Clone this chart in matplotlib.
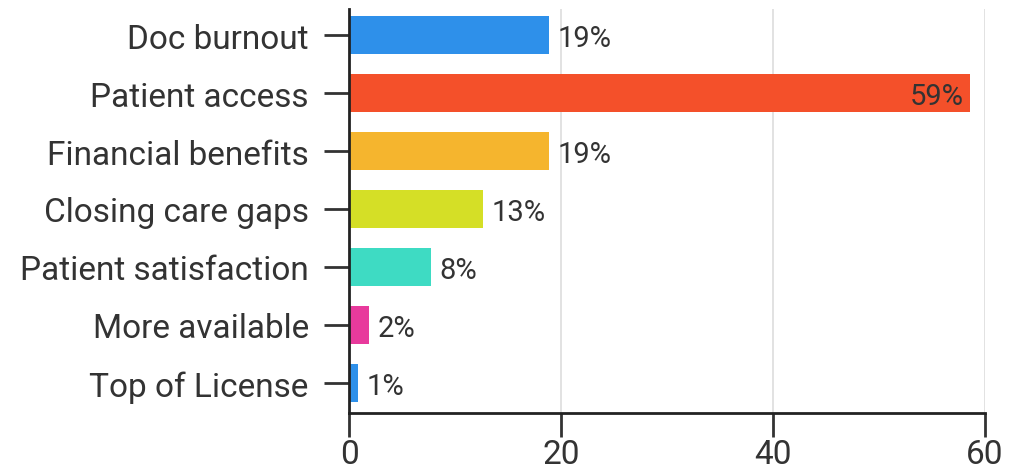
import matplotlib; matplotlib.use("Agg")
import matplotlib.pyplot as plt

categories = ["Doc burnout", "Patient access", "Financial benefits", "Closing care gaps",
              "Patient satisfaction", "More available", "Top of License"]
values = [18.9, 58.6, 18.9, 12.6, 7.7, 1.9, 0.8]
labels = ["19%", "59%", "19%", "13%", "8%", "2%", "1%"]
colors = ["#2E90EA", "#F4502A", "#F5B52E", "#D5DF26", "#3EDBC3", "#E83A9C", "#2E90EA"]

plt.rcParams['font.family'] = ['Roboto', 'DejaVu Sans']
txt = "#333333"

fig = plt.figure(figsize=(10.12, 4.77), dpi=100)
ax = fig.add_axes([0.345, 0.132, 0.628, 0.847])
y = list(range(len(categories)))
ax.barh(y, values, height=0.66, color=colors, zorder=2)
for i, (v, l) in enumerate(zip(values, labels)):
    if v > 50:
        ax.text(v - 0.6, i + 0.05, l, ha='right', va='center', fontsize=21, color=txt, zorder=3)
    else:
        ax.text(v + 0.8, i + 0.05, l, ha='left', va='center', fontsize=21, color=txt, zorder=3)

ax.set_xlim(0, 60)
ax.set_ylim(6.52, -0.45)
ax.set_xticks([0, 20, 40, 60])
ax.set_yticks(y)
ax.set_yticklabels(categories)
ax.tick_params(axis='y', labelsize=24, colors=txt, width=2, length=18, pad=11)
ax.tick_params(axis='x', labelsize=24, colors=txt, width=2, length=17, pad=1)
ax.grid(True, axis='x', color='#dddddd', linewidth=1.2, zorder=0)
for s in ['top', 'right']:
    ax.spines[s].set_visible(False)
for s in ['left', 'bottom']:
    ax.spines[s].set_linewidth(2)
    ax.spines[s].set_color('#222222')

plt.savefig("out.png", dpi=100)
plt.close()
